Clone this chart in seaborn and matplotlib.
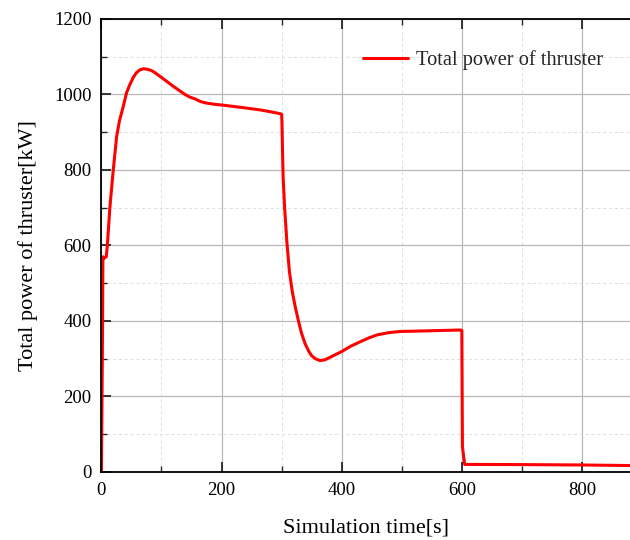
import matplotlib
matplotlib.use("Agg")
import matplotlib.pyplot as plt
import seaborn as sns
import pandas as pd
from matplotlib.ticker import MultipleLocator

time_s = [0, 1.5, 2.5, 4, 8, 9.7, 14.2, 19.7, 25.3, 30, 36, 42, 47, 53, 58, 64, 70,
          75, 80, 86, 93, 100, 110, 120, 130, 139, 147, 156, 165, 175, 187, 200,
          231, 264, 285, 300,
          300.5, 301.5, 302.5, 305, 308.7, 313, 318, 323, 328, 333, 339, 345, 350, 356,
          364, 372, 381, 400, 415, 431, 445, 459, 478, 497, 547, 598, 600,
          601, 604.7, 700, 800, 880]
power_kw = [0, 300, 570, 566, 570, 597, 703, 800, 888, 930, 966, 1005, 1025, 1045,
            1057, 1065, 1068, 1067, 1065, 1061, 1053, 1045, 1033, 1021, 1010, 1000,
            993, 988, 981, 977, 974, 972, 966, 959, 953, 948,
            930, 850, 780, 700, 610, 530, 475, 435, 400, 368, 340, 320, 308, 300,
            295, 297, 304, 319, 333, 345, 355, 363, 369, 372, 374, 376, 375,
            67, 20, 19.5, 18.5, 17]

df = pd.DataFrame({"Simulation time[s]": time_s, "Total power of thruster[kW]": power_kw})

sns.set_style("ticks")
plt.rcParams["font.family"] = ["Liberation Serif", "DejaVu Serif"]

fig = plt.figure(figsize=(6.3, 5.4), dpi=100)
ax = fig.add_axes([0.161, 0.126, 0.839, 0.839])

sns.lineplot(data=df, x="Simulation time[s]", y="Total power of thruster[kW]", ax=ax,
             color="#ff0000", linewidth=2.2, label="Total power of thruster",
             estimator=None, sort=False)

ax.set_xlim(0, 880)
ax.set_ylim(0, 1200)
ax.xaxis.set_major_locator(MultipleLocator(200))
ax.xaxis.set_minor_locator(MultipleLocator(100))
ax.yaxis.set_major_locator(MultipleLocator(200))
ax.yaxis.set_minor_locator(MultipleLocator(100))

ax.grid(which="major", color="#b8b8b8", linestyle="-", linewidth=0.9)
ax.grid(which="minor", color="#dddddd", linestyle=(0, (3, 3)), linewidth=0.7)
ax.set_axisbelow(True)

for s in ["left", "bottom", "top"]:
    ax.spines[s].set_linewidth(1.3)
    ax.spines[s].set_color("black")
ax.spines["right"].set_visible(False)

ax.tick_params(which="major", direction="in", length=7, width=1.3, top=True, right=False,
               labelsize=13.5, pad=7, labelcolor="black")
ax.tick_params(which="minor", direction="in", length=4, width=1.0, top=True, right=False)

ax.set_xlabel("Simulation time[s]", fontsize=16, labelpad=14, color="black")
ax.set_ylabel("Total power of thruster[kW]", fontsize=16, labelpad=12, color="black")

leg = ax.legend(loc="upper right", bbox_to_anchor=(0.984, 0.972), frameon=False,
                fontsize=14.7, handlelength=2.2, handletextpad=0.4)

fig.savefig("out.png", dpi=100)
